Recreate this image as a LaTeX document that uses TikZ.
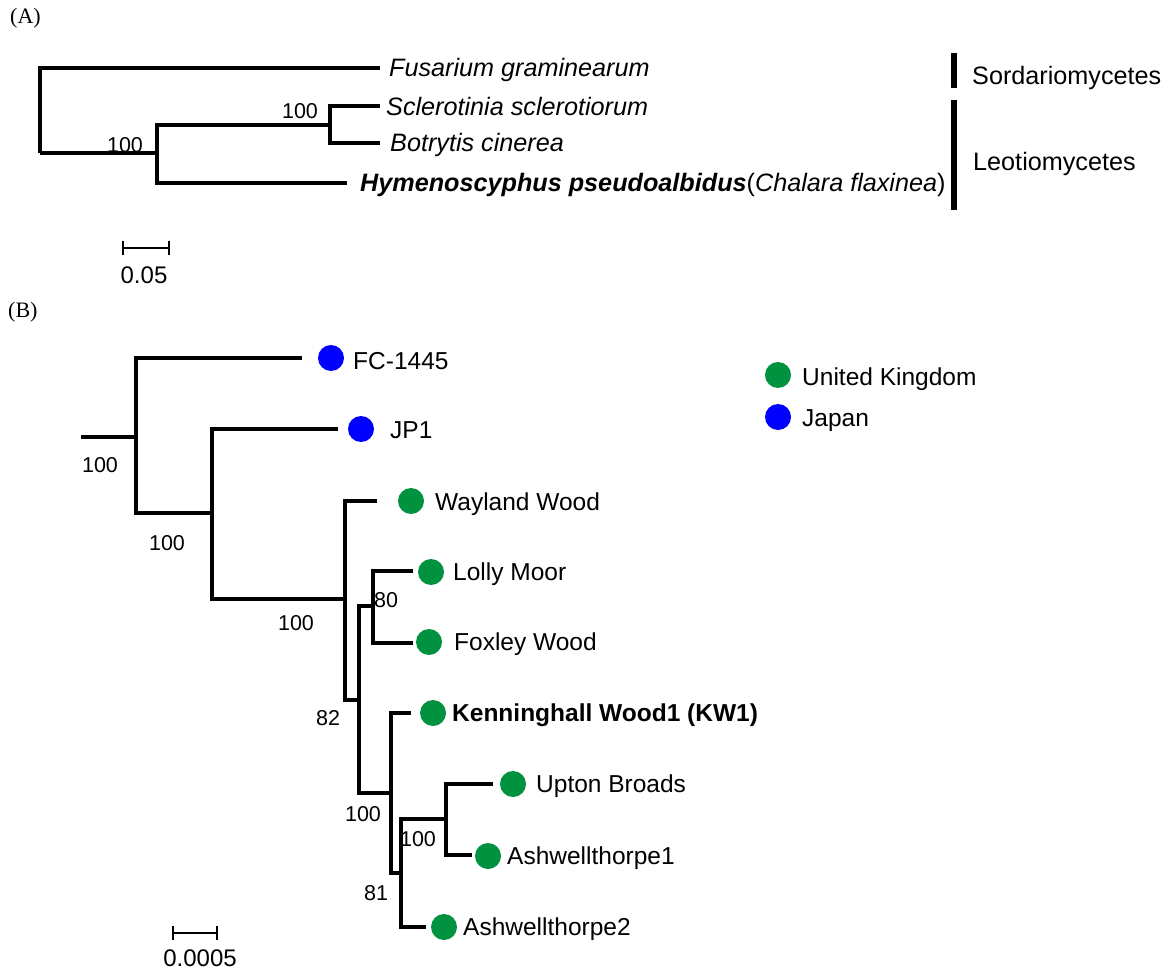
\documentclass[tikz,border=0pt]{standalone}
\usepackage{fontspec}
\setmainfont{Liberation Sans}
\newfontfamily\panelfont{Liberation Serif}
\definecolor{ukgreen}{RGB}{0,146,63}
\definecolor{jpblue}{RGB}{0,0,255}
\tikzset{
  branch/.style={line width=3.4pt, line join=miter},
  classbar/.style={line width=5.5pt},
  scalebar/.style={line width=1.8pt},
  lab/.style={anchor=base west, inner sep=0pt, font=\fontsize{24.5}{29}\selectfont},
  labA/.style={anchor=base west, inner sep=0pt, font=\fontsize{25.2}{30}\selectfont},
  boot/.style={inner sep=0pt, font=\fontsize{21.5}{25}\selectfont},
  panel/.style={anchor=west, inner sep=0pt, font=\panelfont\fontsize{22}{26}\selectfont},
  dot/.style={circle, inner sep=0pt, minimum size=26pt},
  ukdot/.style={dot, fill=ukgreen},
  jpdot/.style={dot, fill=jpblue}
}
\begin{document}
\begin{tikzpicture}[x=1pt,y=-1pt]
\useasboundingbox (0,0) rectangle (1167,973);
% ---------------- Panel A ----------------
\node[panel] (pA) at (10,18) {(A)};
\coordinate (rA) at (40,153);
\coordinate (nA1) at (157,153);
\coordinate (nA2) at (330,125);
\coordinate (eFus) at (380,68);
\coordinate (eScl) at (380,106);
\coordinate (eBot) at (380,143);
\coordinate (eHym) at (347,183);
\draw[branch] (rA) |- (eFus);
\draw[branch] (rA) -- (nA1);
\draw[branch] (nA1) |- (nA2);
\draw[branch] (nA1) |- (eHym);
\draw[branch] (nA2) |- (eScl);
\draw[branch] (nA2) |- (eBot);
\node[boot] (bA1) at (125,145) {100};
\node[boot] (bA2) at (300,111) {100};
\node[labA] (lFus) at (389,77) {\itshape Fusarium graminearum};
\node[labA] (lScl) at (386,116) {\itshape Sclerotinia sclerotiorum};
\node[labA] (lBot) at (390,152) {\itshape Botrytis cinerea};
\node[labA] (lHym) at (360,192) {{\bfseries\itshape Hymenoscyphus pseudoalbidus}(\textit{Chalara flaxinea})};
\coordinate (sBt) at (954,53);
\coordinate (sBb) at (954,88);
\coordinate (lBt) at (954,100);
\coordinate (lBb) at (954,210);
\draw[classbar] (sBt) -- (sBb);
\draw[classbar] (lBt) -- (lBb);
\node[labA] (cSord) at (972,85) {Sordariomycetes};
\node[labA] (cLeot) at (973,171) {Leotiomycetes};
\coordinate (sA1) at (123,248);
\coordinate (sA2) at (169,248);
\draw[scalebar] (sA1) -- (sA2);
\draw[scalebar] ([yshift=7pt]sA1) -- ([yshift=-7pt]sA1);
\draw[scalebar] ([yshift=7pt]sA2) -- ([yshift=-7pt]sA2);
\node[boot, font=\fontsize{24}{28}\selectfont] (sAt) at (144,275) {0.05};
% ---------------- Panel B ----------------
\node[panel] (pB) at (8,312) {(B)};
\coordinate (rB) at (81,437);
\coordinate (nB1) at (136,437);
\coordinate (nB2) at (212,513);
\coordinate (nB3) at (345,599);
\coordinate (nB4) at (359,700);
\coordinate (nB5) at (373,606);
\coordinate (nB6) at (391,793);
\coordinate (nB7) at (401,873);
\coordinate (nB8) at (446,819);
\coordinate (eFC) at (302,358);
\coordinate (eJP) at (338,429);
\coordinate (eWay) at (377,501);
\coordinate (eLol) at (413,571);
\coordinate (eFox) at (413,643);
\coordinate (eKW) at (411,713);
\coordinate (eUp) at (493,784);
\coordinate (eA1) at (472,855);
\coordinate (eA2) at (426,927);
\draw[branch] (rB) -- (nB1);
\draw[branch] (nB1) |- (eFC);
\draw[branch] (nB1) |- (nB2);
\draw[branch] (nB2) |- (eJP);
\draw[branch] (nB2) |- (nB3);
\draw[branch] (nB3) |- (eWay);
\draw[branch] (nB3) |- (nB4);
\draw[branch] (nB4) |- (nB5);
\draw[branch] (nB4) |- (nB6);
\draw[branch] (nB5) |- (eLol);
\draw[branch] (nB5) |- (eFox);
\draw[branch] (nB6) |- (eKW);
\draw[branch] (nB6) |- (nB7);
\draw[branch] (nB7) |- (nB8);
\draw[branch] (nB7) |- (eA2);
\draw[branch] (nB8) |- (eUp);
\draw[branch] (nB8) |- (eA1);
\node[boot] (bB1) at (100,465) {100};
\node[boot] (bB2) at (167,543) {100};
\node[boot] (bB3) at (296,623) {100};
\node[boot] (bB5) at (386,600) {80};
\node[boot] (bB4) at (328,718) {82};
\node[boot] (bB6) at (363,814) {100};
\node[boot] (bB8) at (418,839) {100};
\node[boot] (bB7) at (376,893) {81};
\node[jpdot] (dFC) at (331,358) {};
\node[jpdot] (dJP) at (361,429) {};
\node[ukdot] (dWay) at (411,501) {};
\node[ukdot] (dLol) at (431,572) {};
\node[ukdot] (dFox) at (429,642) {};
\node[ukdot] (dKW) at (433,713) {};
\node[ukdot] (dUp) at (513,784) {};
\node[ukdot] (dA1) at (488,856) {};
\node[ukdot] (dA2) at (444,927) {};
\node[lab] (tFC) at (353,369.8) {FC-1445};
\node[lab] (tJP) at (390,438.8) {JP1};
\node[lab] (tWay) at (435,510.8) {Wayland Wood};
\node[lab] (tLol) at (453,580.8) {Lolly Moor};
\node[lab] (tFox) at (454,650.8) {Foxley Wood};
\node[lab, font=\bfseries\fontsize{24.5}{29}\selectfont] (tKW) at (452,721.8) {Kenninghall Wood1 (KW1)};
\node[lab] (tUp) at (536,792.8) {Upton Broads};
\node[lab] (tA1) at (507,864.8) {Ashwellthorpe1};
\node[lab] (tA2) at (463,935.8) {Ashwellthorpe2};
% legend
\node[ukdot] (gUK) at (778,375) {};
\node[jpdot] (gJP) at (778,417) {};
\node[lab] (tUK) at (802,385.8) {United Kingdom};
\node[lab] (tJPn) at (802,426.8) {Japan};
% scale B
\coordinate (sB1) at (173,933);
\coordinate (sB2) at (217,933);
\draw[scalebar] (sB1) -- (sB2);
\draw[scalebar] ([yshift=7pt]sB1) -- ([yshift=-7pt]sB1);
\draw[scalebar] ([yshift=7pt]sB2) -- ([yshift=-7pt]sB2);
\node[boot, font=\fontsize{24}{28}\selectfont] (sBt) at (200,958) {0.0005};
\end{tikzpicture}
\end{document}
